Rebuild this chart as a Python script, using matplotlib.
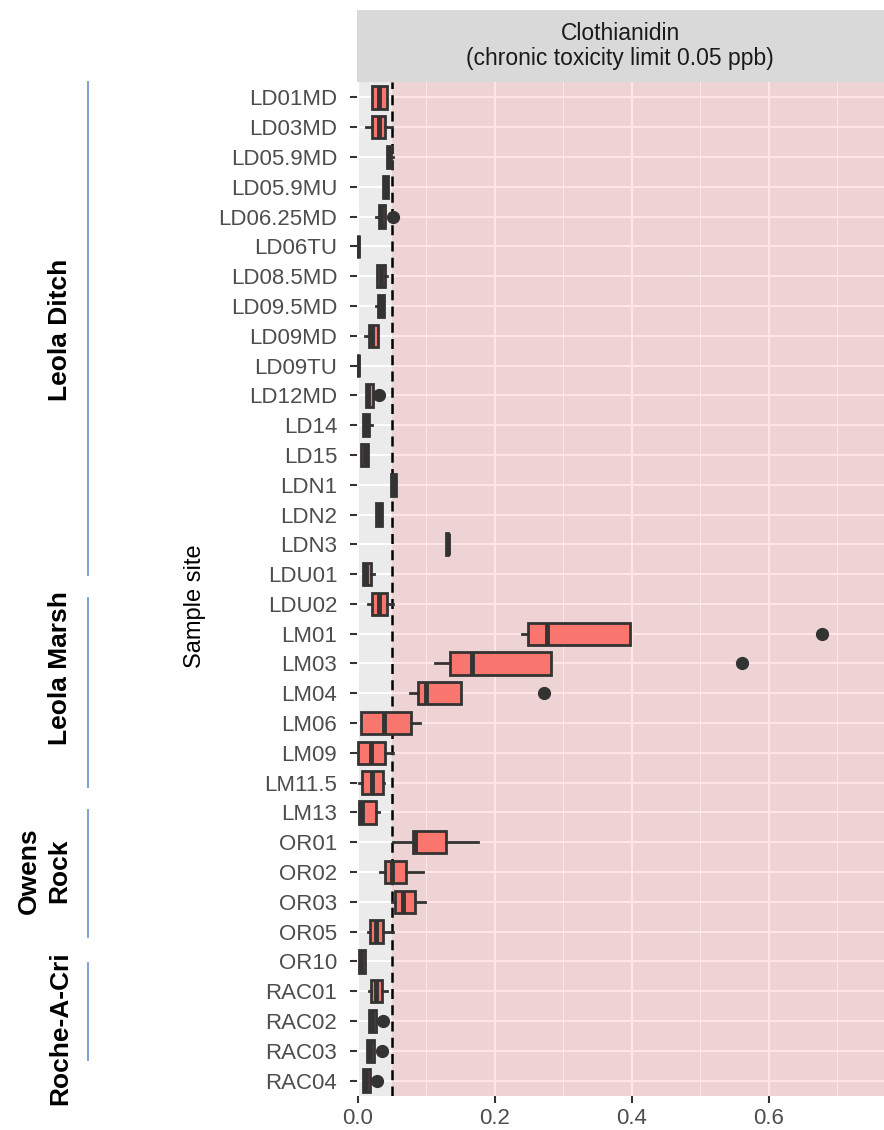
import matplotlib
matplotlib.use("Agg")
import matplotlib.pyplot as plt
from matplotlib.lines import Line2D

plt.rcParams['font.family'] = ['Liberation Sans', 'DejaVu Sans']

# Clothianidin concentrations (ppb) per sample site, as box-plot summaries
sites = ['LD01MD', 'LD03MD', 'LD05.9MD', 'LD05.9MU', 'LD06.25MD', 'LD06TU',
         'LD08.5MD', 'LD09.5MD', 'LD09MD', 'LD09TU', 'LD12MD', 'LD14', 'LD15',
         'LDN1', 'LDN2', 'LDN3', 'LDU01', 'LDU02',
         'LM01', 'LM03', 'LM04', 'LM06', 'LM09', 'LM11.5', 'LM13',
         'OR01', 'OR02', 'OR03', 'OR05', 'OR10',
         'RAC01', 'RAC02', 'RAC03', 'RAC04']
q1 = [0.021, 0.020, 0.043, 0.037, 0.030, 0.0, 0.028, 0.029, 0.0165, 0.0,
      0.0117, 0.0068, 0.004, 0.048, 0.027, 0.129, 0.0068, 0.021,
      0.248, 0.135, 0.087, 0.004, 0.0005, 0.006, 0.0015,
      0.081, 0.040, 0.054, 0.0175, 0.0015,
      0.019, 0.016, 0.0127, 0.0068]
median = [0.031, 0.030, 0.045, 0.040, 0.034, 0.0, 0.034, 0.033, 0.021, 0.0,
          0.015, 0.011, 0.010, 0.052, 0.031, 0.131, 0.012, 0.031,
          0.276, 0.166, 0.099, 0.038, 0.0185, 0.020, 0.0063,
          0.083, 0.049, 0.066, 0.027, 0.005,
          0.027, 0.020, 0.017, 0.011]
q3 = [0.042, 0.040, 0.048, 0.044, 0.039, 0.0, 0.040, 0.038, 0.029, 0.0,
      0.0214, 0.0165, 0.015, 0.0555, 0.035, 0.132, 0.019, 0.042,
      0.397, 0.282, 0.150, 0.077, 0.040, 0.036, 0.026,
      0.129, 0.070, 0.083, 0.036, 0.0098,
      0.0355, 0.026, 0.023, 0.0175]
whisk_lo = [0.021, 0.0117, 0.043, 0.037, 0.027, 0.0, 0.028, 0.026, 0.010, 0.0,
            0.0117, 0.0068, 0.004, 0.048, 0.027, 0.129, 0.0068, 0.015,
            0.240, 0.112, 0.076, 0.004, 0.0, 0.001, 0.0015,
            0.0506, 0.032, 0.049, 0.015, 0.0015,
            0.0165, 0.016, 0.0127, 0.0068]
whisk_hi = [0.042, 0.049, 0.051, 0.044, 0.039, 0.0, 0.043, 0.038, 0.029, 0.0,
            0.0214, 0.021, 0.015, 0.0555, 0.035, 0.132, 0.023, 0.0506,
            0.397, 0.282, 0.150, 0.090, 0.0506, 0.038, 0.030,
            0.175, 0.095, 0.098, 0.0506, 0.0098,
            0.043, 0.026, 0.023, 0.0175]
outliers = {'LD06.25MD': [0.0506], 'LD12MD': [0.031], 'LM01': [0.678],
            'LM03': [0.560], 'LM04': [0.272], 'RAC02': [0.037],
            'RAC03': [0.0346], 'RAC04': [0.028]}

limit = 0.05
x_ticks = [0.0, 0.2, 0.4, 0.6]
x_tick_labels = ['0.0', '0.2', '0.4', '0.6']

group_names = ['Leola Ditch', 'Leola Marsh', 'Owens\nRock', 'Roche-A-Cri']

W, H = 884, 1130
fig = plt.figure(figsize=(W / 100, H / 100), dpi=100)

left_px, top_px, bottom_px, strip_top = 356.6, 82, 1096, 10
ax = fig.add_axes([left_px / W, 1 - bottom_px / H,
                   1 - left_px / W, (bottom_px - top_px) / H])
strip = fig.add_axes([left_px / W, 1 - top_px / H,
                      1 - left_px / W, (top_px - strip_top) / H])

xmax = 0.768
ax.set_facecolor('#EBEBEB')
ax.set_xlim(-0.002, xmax)
n = len(sites)
pos = list(range(1, n + 1))
ax.set_ylim(n + 0.52, 0.48)

# grid
ax.set_xticks(x_ticks)
ax.set_xticks([0.1, 0.3, 0.5, 0.7], minor=True)
ax.set_yticks(pos)
ax.grid(True, which='major', color='white', linewidth=1.5, zorder=0)
ax.grid(True, which='minor', axis='x', color='white', linewidth=0.8, zorder=0)
ax.set_axisbelow(True)

# region above the chronic toxicity limit
ax.axvspan(limit, xmax, color='red', alpha=0.1, lw=0, zorder=1)
ax.axvline(limit, color='black', linewidth=1.8, dashes=(4, 2.5), zorder=2)

stats = []
for i, s in enumerate(sites):
    stats.append(dict(med=median[i], q1=q1[i], q3=q3[i],
                      whislo=whisk_lo[i], whishi=whisk_hi[i],
                      fliers=outliers.get(s, [])))

ax.bxp(stats, positions=pos, vert=False, widths=0.75, patch_artist=True,
       showcaps=False, manage_ticks=False,
       boxprops=dict(facecolor='#F8766D', edgecolor='#333333', linewidth=2.0),
       medianprops=dict(color='#333333', linewidth=3.5),
       whiskerprops=dict(color='#333333', linewidth=2.0),
       flierprops=dict(marker='o', markerfacecolor='#333333',
                       markeredgecolor='#333333', markersize=8.5),
       zorder=3)

ax.set_yticklabels(sites)
ax.set_xticklabels(x_tick_labels)
ax.tick_params(axis='both', which='major', length=5, width=1.5,
               color='#333333', labelcolor='#4D4D4D', labelsize=16, pad=4)
ax.tick_params(axis='y', which='major', pad=9)
ax.tick_params(axis='x', which='minor', length=0)
for sp in ax.spines.values():
    sp.set_visible(False)

fig.text(195 / W, 1 - 606 / H, 'Sample site', rotation=90, ha='center',
         va='center', fontsize=17, color='black')

# facet strip
strip.set_facecolor('#D9D9D9')
strip.set_xticks([])
strip.set_yticks([])
for sp in strip.spines.values():
    sp.set_visible(False)
strip.text(0.5, 0.5, 'Clothianidin\n(chronic toxicity limit 0.05 ppb)',
           ha='center', va='center', fontsize=16.5, color='#1A1A1A',
           linespacing=1.1, transform=strip.transAxes)

# group labels and bars on the left (pixel layout)
bar_spans = [(82, 575), (598, 787), (810, 937), (963, 1060)]
label_y = [330, 668, 871, 1028]
label_x = [60, 60, 44, 60]
for name, (y0, y1), ly, lx in zip(group_names, bar_spans, label_y, label_x):
    fig.add_artist(Line2D([88 / W, 88 / W], [1 - y0 / H, 1 - y1 / H],
                          color='#7396D4', linewidth=1.3))
    fig.text(lx / W, 1 - ly / H, name, rotation=90, ha='center', va='center',
             fontsize=19, fontweight='bold', linespacing=1.3,
             family=['Liberation Sans Narrow', 'Liberation Sans', 'DejaVu Sans'])

fig.savefig('out.png', dpi=100)
